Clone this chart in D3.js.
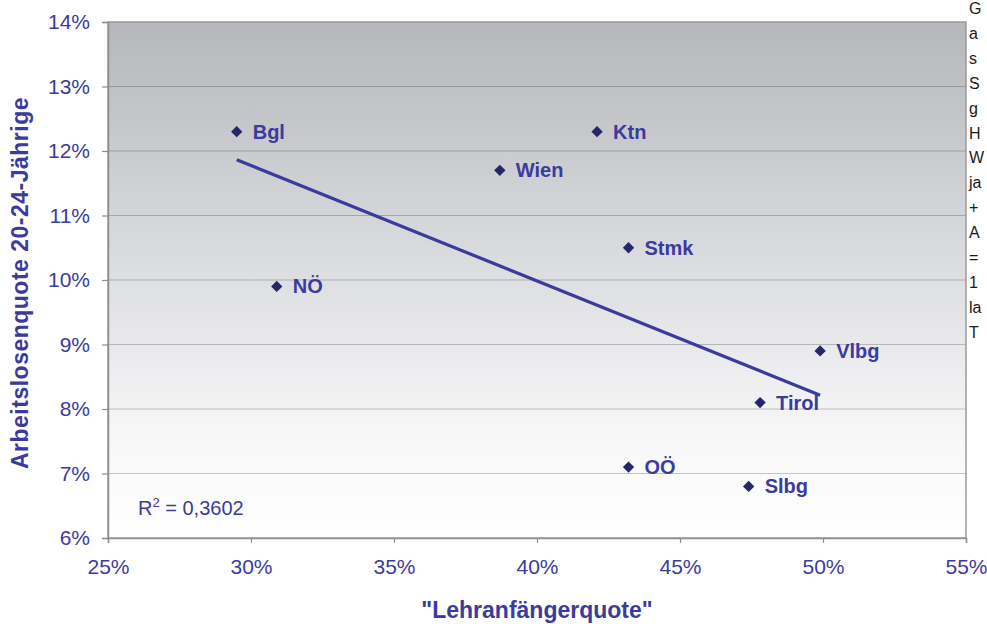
<!DOCTYPE html>
<html>
<head>
<meta charset="utf-8">
<script src="https://cdn.jsdelivr.net/npm/d3@7"></script>
<style>
  html, body { margin: 0; padding: 0; background: #fff; overflow: hidden; }
  svg { display: block; font-family: Arial, "Liberation Sans", Helvetica, sans-serif; }
</style>
</head>
<body>
<svg id="chart" width="987" height="624"></svg>
<script>
// Bundesländer: Lehranfängerquote (%) vs. Arbeitslosenquote der 20-24-Jährigen (%)
const regions = ["Bgl", "Ktn", "Wien", "Stmk", "NÖ", "Vlbg", "Tirol", "OÖ", "Slbg"];
const lehranfaenger = [29.5, 42.1, 38.7, 43.2, 30.9, 49.9, 47.8, 43.2, 47.4];
const arbeitslos = [12.3, 12.3, 11.7, 10.5, 9.9, 8.9, 8.1, 7.1, 6.8];
const xTicks = [25, 30, 35, 40, 45, 50, 55];
const yTicks = [6, 7, 8, 9, 10, 11, 12, 13, 14];
const rSquaredLabel = "0,3602";
const sideNote = ["G", "a", "s", "S", "g", "H", "W", "ja", "+", "A", "=", "1", "la", "T"];

const blue = "#3b3b9e";
const navy = "#26266b";
const svg = d3.select("#chart");

const plot = { left: 108, right: 966, top: 22, bottom: 538 };
const x = d3.scaleLinear().domain([25, 55]).range([plot.left, plot.right]);
const y = d3.scaleLinear().domain([6, 14]).range([plot.bottom, plot.top]);

// background gradient of the plot area
const defs = svg.append("defs");
const grad = defs.append("linearGradient").attr("id", "bg").attr("x1", 0).attr("y1", 0).attr("x2", 0).attr("y2", 1);
grad.append("stop").attr("offset", "0%").attr("stop-color", "#b5b7bb");
grad.append("stop").attr("offset", "45%").attr("stop-color", "#dadbde");
grad.append("stop").attr("offset", "80%").attr("stop-color", "#f7f7f8");
grad.append("stop").attr("offset", "100%").attr("stop-color", "#ffffff");

svg.append("rect")
  .attr("x", plot.left).attr("y", plot.top)
  .attr("width", plot.right - plot.left).attr("height", plot.bottom - plot.top)
  .attr("fill", "url(#bg)");

// horizontal gridlines
svg.append("g").selectAll("line").data(yTicks.slice(1, -1)).join("line")
  .attr("x1", plot.left).attr("x2", plot.right)
  .attr("y1", d => y(d)).attr("y2", d => y(d))
  .attr("stroke", "#000").attr("stroke-opacity", 0.22).attr("stroke-width", 1);

// frame
svg.append("rect")
  .attr("x", plot.left).attr("y", plot.top)
  .attr("width", plot.right - plot.left).attr("height", plot.bottom - plot.top)
  .attr("fill", "none").attr("stroke", "#9a9a9a").attr("stroke-width", 1.5);

// axes
const yAxis = d3.axisLeft(y).tickValues(yTicks).tickSize(6).tickPadding(12).tickFormat(d => d + "%");
const gy = svg.append("g").attr("transform", `translate(${plot.left},0)`).call(yAxis);
const xAxis = d3.axisBottom(x).tickValues(xTicks).tickSize(5).tickPadding(16).tickFormat(d => d + "%");
const gx = svg.append("g").attr("transform", `translate(0,${plot.bottom})`).call(xAxis);
[gx, gy].forEach(g => {
  g.select(".domain").attr("stroke", "#8f8f8f").attr("stroke-width", 1.5);
  g.selectAll(".tick line").attr("stroke", "#8f8f8f").attr("stroke-width", 1.2);
  g.selectAll(".tick text").attr("fill", blue).attr("font-size", 21)
    .attr("font-family", "Arial, 'Liberation Sans', sans-serif");
});

// linear regression trend line
const n = lehranfaenger.length;
const mx = d3.mean(lehranfaenger), my = d3.mean(arbeitslos);
let sxy = 0, sxx = 0;
for (let i = 0; i < n; i++) {
  sxy += (lehranfaenger[i] - mx) * (arbeitslos[i] - my);
  sxx += (lehranfaenger[i] - mx) ** 2;
}
const slope = sxy / sxx, intercept = my - slope * mx;
const [x0, x1] = d3.extent(lehranfaenger);
svg.append("line")
  .attr("x1", x(x0)).attr("y1", y(intercept + slope * x0))
  .attr("x2", x(x1)).attr("y2", y(intercept + slope * x1))
  .attr("stroke", blue).attr("stroke-width", 3.2);

// points and labels
const pts = regions.map((r, i) => ({ r, vx: lehranfaenger[i], vy: arbeitslos[i] }));
const diamond = d3.symbol().type(d3.symbolSquare).size(64)();
svg.append("g").selectAll("path").data(pts).join("path")
  .attr("d", diamond)
  .attr("transform", d => `translate(${x(d.vx)},${y(d.vy)}) rotate(45)`)
  .attr("fill", navy);
svg.append("g").selectAll("text").data(pts).join("text")
  .attr("x", d => x(d.vx) + 16).attr("y", d => y(d.vy) + 7)
  .attr("fill", blue).attr("font-weight", "bold").attr("font-size", 20)
  .text(d => d.r);

// R² annotation
const rt = svg.append("text").attr("x", 138).attr("y", 515)
  .attr("fill", blue).attr("font-size", 20);
rt.append("tspan").text("R");
rt.append("tspan").attr("font-size", 13).attr("dy", -8).text("2");
rt.append("tspan").attr("dy", 8).text(" = " + rSquaredLabel);

// axis titles
svg.append("text")
  .attr("transform", `translate(28,283) rotate(-90)`)
  .attr("text-anchor", "middle").attr("fill", blue)
  .attr("font-weight", "bold").attr("font-size", 23).attr("letter-spacing", 0.5)
  .text("Arbeitslosenquote 20-24-Jährige");
svg.append("text")
  .attr("x", 537).attr("y", 618)
  .attr("text-anchor", "middle").attr("fill", blue)
  .attr("font-weight", "bold").attr("font-size", 23)
  .text("\"Lehranfängerquote\"");

// side note column at the right edge
svg.append("g").selectAll("text").data(sideNote).join("text")
  .attr("x", 969).attr("y", (d, i) => 14 + i * 24.9)
  .attr("fill", "#1a1a1a").attr("font-size", 16)
  .text(d => d);
</script>
</body>
</html>
